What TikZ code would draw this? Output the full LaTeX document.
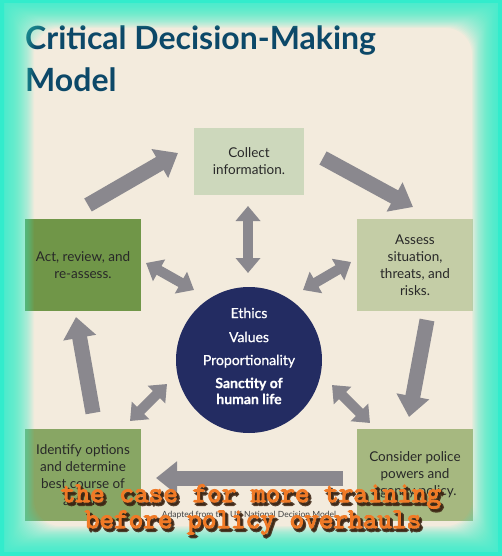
\documentclass[tikz,border=0pt]{standalone}
\usepackage{fontspec}
\setmainfont{Lato}
\newfontfamily\coresemi[FakeBold=0.6]{Lato}
\newfontfamily\overfont[FakeBold=4]{Latin Modern Mono}
\newfontfamily\overshadowfont[FakeBold=8]{Latin Modern Mono}
\usetikzlibrary{arrows.meta}
\definecolor{cream}{RGB}{243,235,221}
\definecolor{glow}{RGB}{50,236,204}
\definecolor{titleblue}{RGB}{12,72,104}
\definecolor{boxA}{RGB}{205,216,188}
\definecolor{boxB}{RGB}{196,205,166}
\definecolor{boxC}{RGB}{166,184,128}
\definecolor{boxD}{RGB}{136,166,100}
\definecolor{boxE}{RGB}{112,150,72}
\definecolor{navy}{RGB}{35,44,98}
\definecolor{arrowgray}{RGB}{138,136,142}
\definecolor{txt}{RGB}{40,40,40}
\definecolor{orangetxt}{RGB}{240,122,38}
\definecolor{shadowtxt}{RGB}{60,36,18}
\tikzset{
  stepbox/.style={rectangle, inner sep=0pt, minimum width=116pt, minimum height=92pt,
    align=center, text=txt, font=\fontsize{13.5}{17}\selectfont},
  bigarrow/.style={draw=arrowgray, line width=15pt, -{Triangle[width=32pt,length=21pt]}},
  dblarrow/.style={draw=arrowgray, line width=10pt,
    {Triangle[width=24pt,length=15pt]}-{Triangle[width=24pt,length=15pt]}},
  overtext/.style={anchor=base, inner sep=0pt, font=\overfont\fontsize{28.4}{30}\selectfont},
  overshadow/.style={anchor=base, inner sep=0pt, font=\overshadowfont\fontsize{28.4}{30}\selectfont}
}
\begin{document}
\begin{tikzpicture}[x=1pt,y=-1pt]
\useasboundingbox (0,0) rectangle (502,556);
\fill[cream] (0,0) rectangle (502,556);
% title
\node[anchor=base west, inner sep=0pt, text=titleblue, font=\bfseries\fontsize{32}{36}\selectfont] (title1) at (25,50) {Critical Decision-Making};
\node[anchor=base west, inner sep=0pt, text=titleblue, font=\bfseries\fontsize{32}{36}\selectfont] (title2) at (25,92) {Model};
% boxes
\node[stepbox, fill=boxA, minimum width=110pt, minimum height=67pt] (collect) at (249,161.5) {Collect\\information.};
\node[stepbox, fill=boxE] (act) at (83,265) {Act, review, and\\re-assess.};
\node[stepbox, fill=boxB] (assess) at (415,265) {Assess\\situation,\\threats, and\\risks.};
\node[stepbox, fill=boxD] (identify) at (83,475) {Identify options\\and determine\\best course of\\action.};
\node[stepbox, fill=boxC] (consider) at (415,475) {Consider police\\powers and\\agency policy.};
% circle
\node[circle, fill=navy, minimum size=146pt, inner sep=0pt] (core) at (249,360) {};
\node[align=center, text=white, inner sep=0pt, font=\coresemi\fontsize{14}{16}\selectfont] (coretext) at (249,356)
  {Ethics\\[8pt]Values\\[7pt]Proportionality\\[7pt]{\bfseries Sanctity of}\\{\bfseries human life}};
% arrow end points
\coordinate (a1s) at (88,205);  \coordinate (a1e) at (178,153);
\coordinate (a2s) at (323,158); \coordinate (a2e) at (413,207);
\coordinate (a3s) at (427,320); \coordinate (a3e) at (409,417);
\coordinate (a4s) at (343,478); \coordinate (a4e) at (156,478);
\coordinate (a5s) at (93,413);  \coordinate (a5e) at (76,317);
\coordinate (d1a) at (248,206); \coordinate (d1b) at (248,273);
\coordinate (d2a) at (146,263); \coordinate (d2b) at (194,290);
\coordinate (d3a) at (351,262); \coordinate (d3b) at (303,290);
\coordinate (d4a) at (130,421); \coordinate (d4b) at (167,384);
\coordinate (d5a) at (370,423); \coordinate (d5b) at (332,385);
\draw[bigarrow] (a1s) -- (a1e);
\draw[bigarrow] (a2s) -- (a2e);
\draw[bigarrow] (a3s) -- (a3e);
\draw[bigarrow] (a4s) -- (a4e);
\draw[bigarrow] (a5s) -- (a5e);
\draw[dblarrow] (d1a) -- (d1b);
\draw[dblarrow] (d2a) -- (d2b);
\draw[dblarrow] (d3a) -- (d3b);
\draw[dblarrow] (d4a) -- (d4b);
\draw[dblarrow] (d5a) -- (d5b);
% caption
\node[anchor=base, inner sep=0pt, text=black!75, font=\fontsize{8.5}{10}\selectfont] (caption) at (249,517) {Adapted from the UK National Decision Model};
% glow frame
\foreach \i in {0,...,29}{
  \pgfmathsetmacro{\myT}{\i/29}
  \pgfmathsetmacro{\myL}{4+30*\myT}
  \pgfmathsetmacro{\myTop}{3+25*\myT}
  \pgfmathsetmacro{\myR}{502-5-25*\myT}
  \pgfmathsetmacro{\myB}{556-5-25*\myT}
  \pgfmathsetmacro{\myRC}{4+22*\myT}
  \fill[glow, opacity=0.06, even odd rule] (0,0) rectangle (502,556) [rounded corners=\myRC pt] (\myL,\myTop) rectangle (\myR,\myB);
}
\fill[glow, even odd rule] (0,0) rectangle (502,556) (4,3) rectangle (498,552);
% overlay text
\node[overshadow, text=shadowtxt, opacity=0.85] (sh1) at (253.5,505) {the case for more training};
\node[overshadow, text=shadowtxt, opacity=0.85] (sh2) at (255.5,531) {before policy overhauls};
\node[overtext, text=orangetxt] (over1) at (251,502) {the case for more training};
\node[overtext, text=orangetxt] (over2) at (253,528) {before policy overhauls};
\end{tikzpicture}
\end{document}
